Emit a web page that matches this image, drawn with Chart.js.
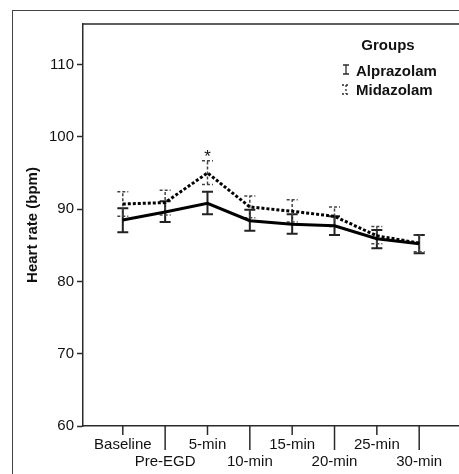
<!DOCTYPE html>
<html lang="en">
<head>
<meta charset="UTF-8">
<title>Heart rate</title>
<script src="https://cdn.jsdelivr.net/npm/chart.js"></script>
<style>
  html, body { margin: 0; padding: 0; background: #fff; }
  #wrap { width: 459px; height: 474px; position: relative; }
</style>
</head>
<body>
<div id="wrap"><canvas id="chart"></canvas></div>
<script>
const categories = ['Baseline', 'Pre-EGD', '5-min', '10-min', '15-min', '20-min', '25-min', '30-min'];
const groupNames = ['Alprazolam', 'Midazolam'];
const alprazolam = [88.5, 89.6, 90.8, 88.4, 87.9, 87.7, 85.9, 85.2];
const alprazolamLow = [86.8, 88.2, 89.3, 87.0, 86.6, 86.4, 84.6, 83.9];
const alprazolamHigh = [90.1, 91.1, 92.4, 89.9, 89.3, 89.0, 87.1, 86.4];
const midazolam = [90.7, 90.9, 95.0, 90.3, 89.7, 89.0, 86.3, 85.3];
const midazolamLow = [89.0, 89.2, 93.4, 88.8, 88.2, 87.6, 85.2, 84.1];
const midazolamHigh = [92.4, 92.6, 96.7, 91.8, 91.3, 90.3, 87.6, 86.4];
const yTicks = [60, 70, 80, 90, 100, 110];
const significant = ['5-min'];

const FONT = 'Arial, "Liberation Sans", sans-serif';
const AXIS = '#2a2a2a';
const TEXT = '#111';

function toPoints(arr) {
  return arr.map((v, i) => ({ x: i, y: v }));
}

// error bars, frames, tick marks, legend and the asterisk
const extras = {
  id: 'extras',
  beforeDraw(chart) {
    const ctx = chart.ctx;
    ctx.save();
    ctx.fillStyle = '#fff';
    ctx.fillRect(0, 0, chart.width, chart.height);
    ctx.restore();
  },
  beforeDatasetsDraw(chart) {
    const ctx = chart.ctx;
    const x = chart.scales.x, y = chart.scales.y;
    const bars = [
      { low: alprazolamLow, high: alprazolamHigh, dash: [], color: '#222', width: 2 },
      { low: midazolamLow, high: midazolamHigh, dash: [3, 2], color: '#444', width: 1.5 }
    ];
    ctx.save();
    bars.forEach(b => {
      ctx.strokeStyle = b.color;
      ctx.lineWidth = b.width;
      ctx.setLineDash(b.dash);
      categories.forEach((c, i) => {
        const px = x.getPixelForValue(i);
        const y1 = y.getPixelForValue(b.low[i]);
        const y2 = y.getPixelForValue(b.high[i]);
        ctx.beginPath();
        ctx.moveTo(px, y1); ctx.lineTo(px, y2);
        ctx.moveTo(px - 5.5, y1); ctx.lineTo(px + 5.5, y1);
        ctx.moveTo(px - 5.5, y2); ctx.lineTo(px + 5.5, y2);
        ctx.stroke();
      });
    });
    ctx.restore();
  },
  afterDraw(chart) {
    const ctx = chart.ctx;
    const a = chart.chartArea;
    const x = chart.scales.x, y = chart.scales.y;
    ctx.save();
    // outer frame
    ctx.strokeStyle = '#444';
    ctx.lineWidth = 1;
    ctx.strokeRect(12.5, 10.5, chart.width + 20, chart.height + 20);
    // top edge of plot box
    ctx.strokeStyle = AXIS;
    ctx.lineWidth = 1.5;
    ctx.beginPath();
    ctx.moveTo(a.left - 0.75, a.top);
    ctx.lineTo(a.right + 2, a.top);
    ctx.stroke();
    // staggered x tick marks
    categories.forEach((c, i) => {
      const px = x.getPixelForValue(i);
      ctx.beginPath();
      ctx.moveTo(px, a.bottom);
      ctx.lineTo(px, a.bottom + (i % 2 ? 24 : 9));
      ctx.stroke();
    });
    // asterisk over significant points
    ctx.fillStyle = TEXT;
    ctx.font = '17px ' + FONT;
    ctx.textAlign = 'center';
    ctx.textBaseline = 'alphabetic';
    significant.forEach(c => {
      const i = categories.indexOf(c);
      ctx.fillText('*', x.getPixelForValue(i), y.getPixelForValue(midazolamHigh[i]) + 1);
    });
    // legend
    ctx.font = 'bold 15px ' + FONT;
    ctx.fillText('Groups', 388, 50);
    ctx.textAlign = 'left';
    ctx.fillText(groupNames[0], 356, 76);
    ctx.fillText(groupNames[1], 356, 95);
    ctx.strokeStyle = AXIS;
    ctx.lineWidth = 1.3;
    ctx.beginPath();
    ctx.moveTo(346, 65); ctx.lineTo(346, 74);
    ctx.moveTo(343, 65); ctx.lineTo(349, 65);
    ctx.moveTo(343, 74); ctx.lineTo(349, 74);
    ctx.stroke();
    ctx.setLineDash([2, 2]);
    ctx.beginPath();
    ctx.moveTo(346, 85); ctx.lineTo(346, 94);
    ctx.moveTo(342, 85); ctx.lineTo(348, 85);
    ctx.moveTo(342, 94); ctx.lineTo(348, 94);
    ctx.stroke();
    ctx.restore();
  }
};

new Chart(document.getElementById('chart'), {
  type: 'line',
  data: {
    datasets: [
      {
        label: groupNames[0],
        data: toPoints(alprazolam),
        borderColor: '#000',
        borderWidth: 3,
        pointRadius: 0,
        tension: 0
      },
      {
        label: groupNames[1],
        data: toPoints(midazolam),
        borderColor: '#000',
        borderWidth: 3,
        borderDash: [3, 2],
        pointRadius: 0,
        tension: 0
      }
    ]
  },
  options: {
    responsive: true,
    maintainAspectRatio: false,
    animation: false,
    layout: { padding: { top: 24, left: 0, right: 0, bottom: 0 } },
    plugins: {
      legend: { display: false },
      tooltip: { enabled: false }
    },
    scales: {
      x: {
        type: 'linear',
        min: -0.94,
        max: 7.94,
        afterBuildTicks: s => { s.ticks = categories.map((c, i) => ({ value: i })); },
        afterFit: s => { s.height = 48; },
        grid: { drawOnChartArea: false, drawTicks: false },
        border: { color: AXIS, width: 1.5 },
        ticks: {
          autoSkip: false,
          maxRotation: 0,
          padding: 10,
          color: TEXT,
          font: { family: FONT, size: 15, lineHeight: 1.15 },
          callback: v => (v % 2 ? ['', categories[v]] : categories[v])
        }
      },
      y: {
        min: 60,
        max: 115.6,
        afterBuildTicks: s => { s.ticks = yTicks.map(v => ({ value: v })); },
        afterFit: s => { s.width = 83; },
        grid: { drawOnChartArea: false, tickLength: 6, tickColor: AXIS, tickWidth: 1.5 },
        border: { color: AXIS, width: 1.5 },
        ticks: {
          padding: 3,
          color: TEXT,
          font: { family: FONT, size: 15 }
        },
        title: {
          display: true,
          text: 'Heart rate (bpm)',
          color: TEXT,
          padding: { top: 24, bottom: 0 },
          font: { family: FONT, size: 15, weight: 'bold' }
        }
      }
    }
  },
  plugins: [extras]
});
</script>
</body>
</html>
